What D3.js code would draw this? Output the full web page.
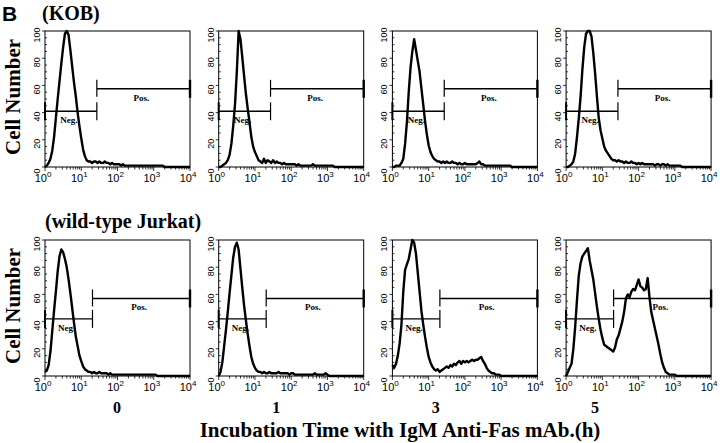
<!DOCTYPE html>
<html>
<head>
<meta charset="utf-8">
<script src="https://cdn.jsdelivr.net/npm/d3@7"></script>
<style>
  body { margin: 0; background: #fff; }
  text { fill: #000; }
</style>
</head>
<body>
<svg id="fig" width="720" height="443"></svg>
<script>
// log10 of fluorescence intensity (channel grid)
const logX = [
  0,0.05,0.1,0.15,0.2,0.25,0.3,0.35,0.4,0.45,
  0.5,0.55,0.6,0.65,0.7,0.75,0.8,0.85,0.9,0.95,
  1,1.05,1.1,1.15,1.2,1.25,1.3,1.35,1.4,1.45,
  1.5,1.55,1.6,1.65,1.7,1.75,1.8,1.85,1.9,1.95,
  2,2.05,2.1,2.15,2.2,2.25,2.3,2.35,2.4,2.45,
  2.5,2.55,2.6,2.65,2.7,2.75,2.8,2.85,2.9,2.95,
  3,3.05,3.1,3.15,3.2,3.25,3.3,3.35,3.4,3.45,
  3.5,3.55,3.6,3.65,3.7,3.75,3.8,3.85,3.9,3.95,
  4];

// KOB cells
const kob0h = [
  0,1,3,6,12,22,36,50,63,76,
  88,98,100,97,86,74,62,52,40,30,
  21,13,8,5,4,4,3,4,4,3,
  4,3,3,4,3,3,2,3,2,2,
  2,2,1,2,1,1,1,1,1,1,
  1,1,1,1,1,1,1,1,1,1,
  1,1,1,1,1,1,0,0,0,0,
  0,0,0,0,0,0,0,0,0,0,
  0];
const kob1h = [
  0,0,1,2,3,5,9,17,30,46,
  70,100,94,81,67,54,43,33,22,15,
  11,8,5,4,3,6,3,5,4,3,
  5,3,4,3,3,2,3,2,2,2,
  2,2,2,1,2,1,1,1,1,1,
  1,1,2,1,1,1,1,1,1,1,
  1,1,1,1,0,0,0,0,0,0,
  0,0,0,0,0,0,0,0,0,0,
  0];
const kob3h = [
  0,0,1,1,1,3,6,17,33,55,
  73,85,94,86,78,70,58,46,34,24,
  16,11,8,6,5,4,4,3,4,3,
  4,3,3,4,3,3,2,3,2,2,
  3,2,2,2,2,2,2,3,4,2,
  2,1,1,1,1,1,1,1,1,1,
  1,1,1,1,1,1,0,0,0,0,
  0,0,0,0,0,0,0,0,0,0,
  0];
const kob5h = [
  0,0,1,2,4,10,22,36,52,72,
  88,98,100,100,96,84,69,52,36,27,
  21,15,12,10,8,6,5,5,4,5,
  4,4,3,4,3,3,4,3,3,2,
  3,2,3,2,2,2,2,2,2,1,
  2,2,1,2,2,1,2,1,1,1,
  1,1,1,1,0,0,0,0,0,0,
  0,0,0,0,0,0,0,0,0,0,
  0];

// wild-type Jurkat cells
const wt0h = [
  3,4,8,18,33,48,62,77,88,93,
  91,86,80,71,61,50,39,29,22,15,
  11,7,5,4,3,3,2,3,2,2,
  3,2,2,2,2,1,2,1,1,1,
  1,1,1,1,1,1,1,1,1,1,
  1,1,1,1,1,1,1,1,1,1,
  1,1,0,0,0,0,0,0,0,0,
  0,0,0,0,0,0,0,0,0,0,
  0];
const wt1h = [
  0,3,10,22,34,47,61,74,87,95,
  98,93,79,65,52,41,31,22,14,9,
  6,4,3,3,2,3,2,2,3,2,
  2,2,2,3,2,2,2,2,2,1,
  2,2,1,1,1,1,1,1,1,1,
  1,1,1,2,1,1,1,1,1,2,
  1,0,0,0,0,0,0,0,0,0,
  0,0,0,0,0,0,0,0,0,0,
  0];
const wt3h = [
  8,6,9,15,24,38,62,78,82,86,
  93,100,98,90,76,62,48,38,29,21,
  14,10,7,5,4,5,3,4,5,6,
  7,6,8,7,9,8,10,11,9,11,
  10,11,10,11,12,11,12,12,13,14,
  11,9,6,4,3,2,2,1,1,1,
  0,0,0,0,0,0,0,0,0,0,
  0,0,0,0,0,0,0,0,0,0,
  0];
const wt5h = [
  0,3,6,9,20,36,56,74,83,88,
  90,92,94,85,78,71,61,51,42,34,
  28,23,22,21,20,19,18,21,27,30,
  35,40,47,57,60,58,62,64,63,67,
  71,66,65,63,64,72,58,47,41,35,
  29,23,16,10,6,3,2,1,1,1,
  1,0,0,0,0,0,0,0,0,0,
  0,0,0,0,0,0,0,0,0,0,
  0];

const hours = ["0", "1", "3", "5"];
const rowTitles = ["(KOB)", "(wild-type Jurkat)"];
const rowSeries = [[kob0h, kob1h, kob3h, kob5h], [wt0h, wt1h, wt3h, wt5h]];
const yTicks = [0, 20, 40, 60, 80, 100];
const xTickExp = [0, 1, 2, 3, 4];
// marker gates: Neg/Pos split (log10) and bar heights, per row
const gateSplit = [1.43, 1.31];
const gateNegY = [41, 42];
const gatePosY = [57.5, 57];

const svg = d3.select('#fig');
const serif = "'Liberation Serif', 'Times New Roman', serif";
const sans = "'Liberation Sans', Arial, sans-serif";

const pw = 145, ph = 136;
const colX = d3.scaleBand().domain(d3.range(4)).range([45, 45 + 4 * 173.7]).paddingInner(0);
const rowY = [31, 240];

const x = d3.scaleLog().domain([1, 1e4]).range([0, pw]);
const y = d3.scaleLinear().domain([0, 100]).range([ph, 0]);

const line = d3.line()
  .x((d, i) => x(Math.pow(10, logX[i])))
  .y(d => y(d))
  .curve(d3.curveLinear);

// panel letter and row titles
svg.append('text').attr('x', 2).attr('y', 21)
  .attr('font-family', sans).attr('font-weight', 'bold').attr('font-size', 21)
  .text('B');

rowTitles.forEach((t, r) => {
  svg.append('text')
    .attr('x', r == 0 ? 42 : 45)
    .attr('y', r == 0 ? 20 : 228)
    .attr('font-family', serif).attr('font-weight', 'bold').attr('font-size', 20)
    .text(t);

  svg.append('text')
    .attr('transform', `translate(20,${rowY[r] + ph / 2 - 2}) rotate(-90)`)
    .attr('text-anchor', 'middle')
    .attr('font-family', serif).attr('font-weight', 'bold').attr('font-size', 21)
    .text('Cell Number');
});

rowSeries.forEach((series, r) => {
  series.forEach((vals, c) => {
    const g = svg.append('g')
      .attr('transform', `translate(${colX(c)},${rowY[r]})`);

    // frame
    g.append('rect')
      .attr('width', pw).attr('height', ph)
      .attr('fill', 'none').attr('stroke', '#000').attr('stroke-width', 1);

    // y ticks: majors outward, minors inward
    g.selectAll('.ymin').data(d3.range(0, 101, 5)).join('line')
      .attr('x1', 0).attr('x2', d => d % 20 == 0 ? -3 : 2)
      .attr('y1', d => y(d)).attr('y2', d => y(d))
      .attr('stroke', '#000').attr('stroke-width', 0.8);

    g.selectAll('.ylab').data(yTicks).join('text')
      .attr('transform', d => `translate(-5,${y(d) + 4}) rotate(-90)`)
      .attr('text-anchor', 'middle')
      .attr('font-family', sans).attr('font-size', 9)
      .text(d => d);

    // x ticks: log minors pointing down
    g.selectAll('.xmin').data(x.ticks()).join('line')
      .attr('x1', d => x(d)).attr('x2', d => x(d))
      .attr('y1', ph)
      .attr('y2', d => Math.abs(Math.log10(d) - Math.round(Math.log10(d))) < 1e-9 ? ph + 4 : ph + 2.5)
      .attr('stroke', '#000').attr('stroke-width', 0.8);

    const xl = g.selectAll('.xlab').data(xTickExp).join('text')
      .attr('x', d => x(Math.pow(10, d)) - 2)
      .attr('y', ph + 15)
      .attr('text-anchor', 'middle')
      .attr('font-family', sans).attr('font-size', 11);
    xl.append('tspan').text('10');
    xl.append('tspan').attr('dy', -5).attr('font-size', 8).text(d => d);

    // histogram
    g.append('path')
      .datum(vals)
      .attr('d', line)
      .attr('fill', 'none').attr('stroke', '#000')
      .attr('stroke-width', 2.4).attr('stroke-linejoin', 'round');

    // gates
    const xs = x(Math.pow(10, gateSplit[r]));
    const yn = y(gateNegY[r]), yp = y(gatePosY[r]);
    const gate = g.append('g').attr('stroke', '#000');
    gate.append('line').attr('x1', 0).attr('x2', xs).attr('y1', yn).attr('y2', yn).attr('stroke-width', 1.4);
    gate.append('line').attr('x1', 0).attr('x2', 0).attr('y1', yn - 9).attr('y2', yn + 9).attr('stroke-width', 2);
    gate.append('line').attr('x1', xs).attr('x2', xs).attr('y1', yn - 9).attr('y2', yn + 9).attr('stroke-width', 1.2);
    gate.append('line').attr('x1', xs).attr('x2', pw).attr('y1', yp).attr('y2', yp).attr('stroke-width', 1.4);
    gate.append('line').attr('x1', xs).attr('x2', xs).attr('y1', yp - 9).attr('y2', yp + 8).attr('stroke-width', 1.2);
    gate.append('line').attr('x1', pw).attr('x2', pw).attr('y1', yp - 9).attr('y2', yp + 9).attr('stroke-width', 2.4);

    g.append('text')
      .attr('x', xs / 2 - 2).attr('y', yn + 12)
      .attr('text-anchor', 'middle')
      .attr('font-family', serif).attr('font-weight', 'bold').attr('font-size', 9)
      .text('Neg.');
    g.append('text')
      .attr('x', (xs + pw) / 2 - 2).attr('y', yp + 12)
      .attr('text-anchor', 'middle')
      .attr('font-family', serif).attr('font-weight', 'bold').attr('font-size', 9)
      .text('Pos.');
  });
});

// hour labels and axis title
const hourX = d3.scalePoint().domain(hours).range([117, 595]);
svg.selectAll('.hour').data(hours).join('text')
  .attr('x', d => hourX(d)).attr('y', 413)
  .attr('text-anchor', 'middle')
  .attr('font-family', serif).attr('font-weight', 'bold').attr('font-size', 16)
  .text(d => d);

svg.append('text')
  .attr('x', 400).attr('y', 437)
  .attr('text-anchor', 'middle')
  .attr('font-family', serif).attr('font-weight', 'bold').attr('font-size', 21)
  .text('Incubation Time with IgM Anti-Fas mAb.(h)');
</script>
</body>
</html>
